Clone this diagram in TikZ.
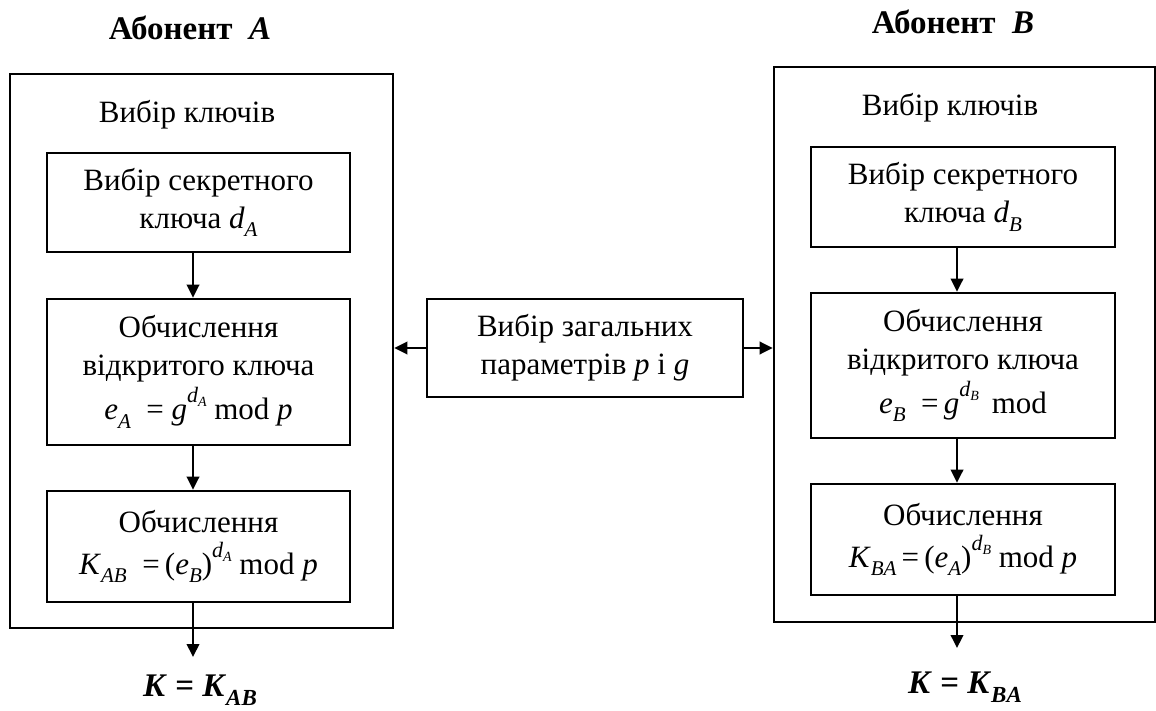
\documentclass[tikz,border=0pt]{standalone}
\usepackage{fontspec}
\setmainfont{Liberation Serif}
\usetikzlibrary{arrows.meta}
% small italic indices for the formulas
\newcommand{\lowi}[1]{\raisebox{-0.28em}{\fontsize{21}{21}\selectfont\itshape #1}}
\newcommand{\powi}[2]{\raisebox{0.55em}{\fontsize{22}{22}\selectfont\itshape #1\raisebox{-0.18em}{\fontsize{14}{14}\selectfont #2}}}
\newcommand{\boldlow}[1]{\raisebox{-0.28em}{\fontsize{23}{23}\selectfont\bfseries\itshape #1}}
\begin{document}
\begin{tikzpicture}[x=1pt,y=-1pt,
  txt/.style={font=\fontsize{31}{39}\selectfont, align=center, inner sep=0pt},
  frame/.style={draw, line width=2.6pt, inner sep=0pt},
  blk/.style={draw, line width=2.6pt, inner sep=0pt, align=center, font=\fontsize{31}{38}\selectfont},
  head/.style={font=\fontsize{33}{38}\selectfont\bfseries, inner sep=0pt},
  link/.style={line width=2pt, -{Triangle[length=13pt,width=12.5pt]}}]
\useasboundingbox (0,0) rectangle (1156,711);

% subscriber A
\node[head] (hA) at (190,28) {Абонент\ \ \textit{A}};
\node[frame, minimum width=383, minimum height=554] (outA) at (201.5,351) {};
\node[txt] (kA) at (187,115) {Вибір ключів};
\node[blk, minimum width=303, minimum height=99] (a1) at (198.5,202.5)
  {Вибір секретного\\ключа \textit{d}\lowi{A}};
\node[blk, minimum width=303, minimum height=146] (a2) at (198.5,372)
  {Обчислення\\відкритого ключа\\[4pt]\textit{e}\lowi{A}\ \ =\ \textit{g}\powi{d}{A}\ mod \textit{p}};
\node[blk, minimum width=303, minimum height=111] (a3) at (198.5,546.5)
  {Обчислення\\[4pt]\textit{K}\lowi{AB}\ \ =\,(\textit{e}\lowi{B})\powi{d}{A}\ mod \textit{p}};
\coordinate (axA) at (193,0);
\coordinate (endA) at (193,657);
\node[head] (resA) at (200,690) {\textit{K} = \textit{K}\boldlow{AB}};

% common parameters
\node[blk, minimum width=316, minimum height=98] (mid) at (585,348)
  {Вибір загальних\\параметрів \textit{p} і \textit{g}};

% subscriber B
\node[head] (hB) at (953,22) {Абонент\ \ \textit{B}};
\node[frame, minimum width=381, minimum height=555] (outB) at (964.5,344.5) {};
\node[txt] (kB) at (950,108) {Вибір ключів};
\node[blk, minimum width=304, minimum height=100] (b1) at (963,197)
  {Вибір секретного\\ключа \textit{d}\lowi{B}};
\node[blk, minimum width=304, minimum height=145] (b2) at (963,365.5)
  {Обчислення\\відкритого ключа\\[4pt]\textit{e}\lowi{B}\ \ =\,\textit{g}\powi{d}{B}\ \,mod};
\node[blk, minimum width=304, minimum height=111] (b3) at (963,539.5)
  {Обчислення\\[4pt]\textit{K}\lowi{BA}\,=\,(\textit{e}\lowi{A})\powi{d}{B}\ mod \textit{p}};
\coordinate (axB) at (957,0);
\coordinate (endB) at (957,648);
\node[head] (resB) at (965,687) {\textit{K} = \textit{K}\boldlow{BA}};

% connectors
\draw[link] (a1.south -| axA) -- (a2.north -| axA);
\draw[link] (a2.south -| axA) -- (a3.north -| axA);
\draw[link] (a3.south -| axA) -- (endA);
\draw[link] (b1.south -| axB) -- (b2.north -| axB);
\draw[link] (b2.south -| axB) -- (b3.north -| axB);
\draw[link] (b3.south -| axB) -- (endB);
\draw[link] (mid.west) -- (mid.west -| outA.east);
\draw[link] (mid.east) -- (mid.east -| outB.west);
\end{tikzpicture}
\end{document}
